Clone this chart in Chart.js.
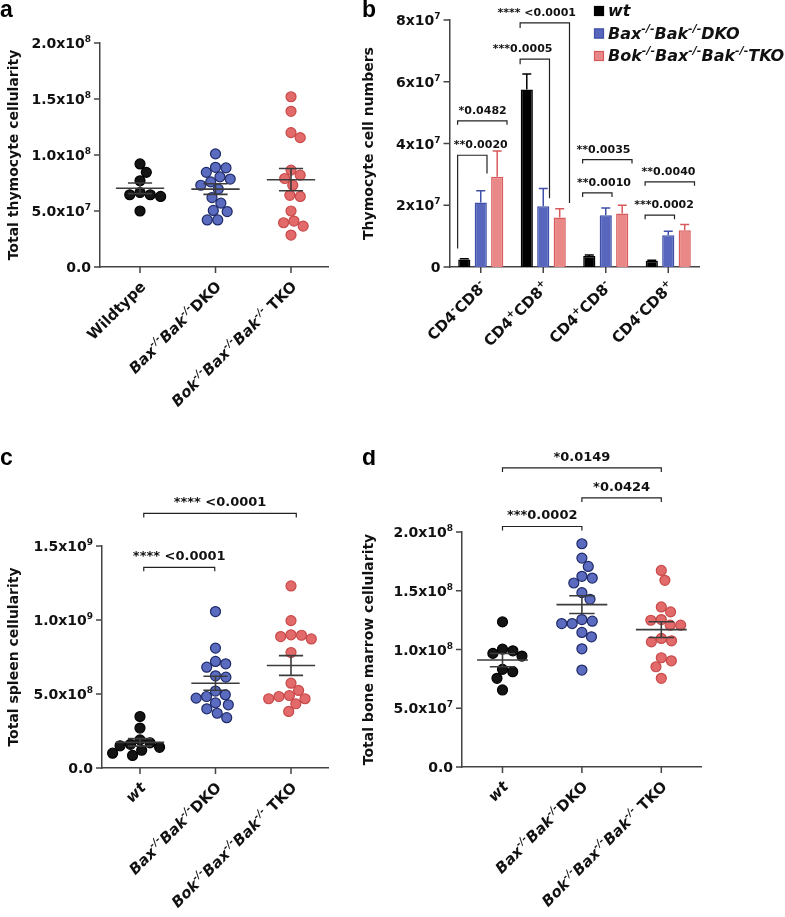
<!DOCTYPE html>
<html>
<head>
<meta charset="utf-8">
<title>Thymocyte, spleen and bone marrow cellularity</title>
<script src="https://cdn.jsdelivr.net/npm/chart.js@4.4.1/dist/chart.umd.min.js"></script>
<style>
  html, body { margin: 0; padding: 0; background: #fff; }
  #page { position: relative; width: 785px; height: 917px; overflow: hidden; }
  #page canvas { position: absolute; }
</style>
</head>
<body>
<div id="page">
  <canvas id="panelA" width="355" height="450" style="left:0;top:0"></canvas>
  <canvas id="panelB" width="430" height="450" style="left:355px;top:0"></canvas>
  <canvas id="panelC" width="355" height="467" style="left:0;top:450px"></canvas>
  <canvas id="panelD" width="430" height="467" style="left:355px;top:450px"></canvas>
</div>
<script>
// ---- data ----
// markup in labels: ~...~ italic, ^{...} superscript

// a: total thymocyte cellularity
const thymusGroups = ['Wildtype', '~Bax^{-/-}Bak^{-/-}~DKO', '~Bok^{-/-}Bax^{-/-}Bak^{-/-}~ TKO'];
const thymusWT = [9.2e7, 8.45e7, 7.7e7, 6.65e7, 6.45e7, 6.3e7, 6.45e7, 5.0e7];
const thymusDKO = [1.01e8, 8.9e7, 8.85e7, 8.45e7, 8.05e7, 7.85e7, 7.6e7, 7.3e7, 6.95e7, 6.2e7, 5.7e7, 4.95e7, 5.05e7, 4.2e7, 4.2e7];
const thymusTKO = [1.52e8, 1.39e8, 1.2e8, 1.155e8, 8.65e7, 8.2e7, 7.9e7, 7.3e7, 6.4e7, 6.3e7, 5.0e7, 3.95e7, 4.1e7, 3.65e7, 2.85e7];
const thymusTicks = [0, 5e7, 1e8, 1.5e8, 2e8];
const thymusTickLabels = ['0.0', '5.0x10^{7}', '1.0x10^{8}', '1.5x10^{8}', '2.0x10^{8}'];

// b: thymocyte subsets (mean + SEM)
const subsets = ['CD4^{-}CD8^{-}', 'CD4^{+}CD8^{+}', 'CD4^{+}CD8^{-}', 'CD4^{-}CD8^{+}'];
const seriesNames = ['~wt~', '~Bax^{-/-}Bak^{-/-}DKO~', '~Bok^{-/-}Bax^{-/-}Bak^{-/-}TKO~'];
const wtCounts = [2.4e6, 5.75e7, 3.6e6, 2.0e6];
const wtSem = [3e5, 5.0e6, 3e5, 2e5];
const dkoCounts = [2.09e7, 1.97e7, 1.68e7, 1.03e7];
const dkoSem = [3.8e6, 5.7e6, 2.3e6, 1.3e6];
const tkoCounts = [2.92e7, 1.6e7, 1.73e7, 1.19e7];
const tkoSem = [8.4e6, 2.9e6, 2.7e6, 1.9e6];
const subsetTicks = [0, 2e7, 4e7, 6e7, 8e7];
const subsetTickLabels = ['0', '2x10^{7}', '4x10^{7}', '6x10^{7}', '8x10^{7}'];
// comparisons: [subset, series] to [subset, series], bracket level, leg ends, label centre (category units)
const subsetStats = [
  { from: [0, 0], to: [0, 1], y: 3.62e7, legs: [6.0e6, 3.03e7], tx: 0.0, text: '**0.0020' },
  { from: [0, 0], to: [0, 2], y: 4.735e7, tx: 0.03, text: '*0.0482' },
  { from: [1, 0], to: [1, 1], y: 6.73e7, legs: [6.57e7, 2.23e7], tx: 0.67, text: '***0.0005' },
  { from: [1, 0], to: [1, 2], y: 7.91e7, legs: [7.74e7, 2.07e7], tx: 0.895, text: '**** <0.0001' },
  { from: [2, 0], to: [2, 1], y: 2.4e7, tx: 1.972, text: '**0.0010' },
  { from: [2, 0], to: [2, 2], y: 3.48e7, tx: 1.964, text: '**0.0035' },
  { from: [3, 0], to: [3, 1], y: 1.68e7, tx: 2.932, text: '***0.0002' },
  { from: [3, 0], to: [3, 2], y: 2.76e7, tx: 3.004, text: '**0.0040' }
];

// c: total spleen cellularity
const mutantGroups = ['~wt~', '~Bax^{-/-}Bak^{-/-}~DKO', '~Bok^{-/-}Bax^{-/-}Bak^{-/-}~ TKO'];
const spleenWT = [3.48e8, 2.7e8, 1.9e8, 1.7e8, 1.6e8, 1.5e8, 1.4e8, 1.2e8, 1.0e8, 8.5e7];
const spleenDKO = [1.057e9, 8.1e8, 7.2e8, 7.04e8, 6.81e8, 6.23e8, 6.14e8, 5.2e8, 4.95e8, 4.83e8, 4.72e8, 4.4e8, 4.27e8, 4.0e8, 3.7e8, 3.4e8];
const spleenTKO = [1.23e9, 9.96e8, 9.0e8, 8.97e8, 8.88e8, 8.72e8, 7.8e8, 5.73e8, 5.24e8, 4.9e8, 4.83e8, 4.68e8, 4.68e8, 4.34e8, 3.82e8];
const spleenTicks = [0, 5e8, 1e9, 1.5e9];
const spleenTickLabels = ['0.0', '5.0x10^{8}', '1.0x10^{9}', '1.5x10^{9}'];
const spleenStats = [
  { from: 0.05, to: 2.07, y: 1.72e9, text: '**** <0.0001' },
  { from: 0.05, to: 0.99, y: 1.356e9, text: '**** <0.0001' }
];

// d: total bone marrow cellularity
const marrowWT = [1.235e8, 1.003e8, 9.89e7, 9.67e7, 9.44e7, 8.31e7, 8.11e7, 7.55e7, 6.56e7];
const marrowDKO = [1.9e8, 1.778e8, 1.707e8, 1.623e8, 1.608e8, 1.566e8, 1.484e8, 1.427e8, 1.255e8, 1.241e8, 1.221e8, 1.221e8, 1.145e8, 1.108e8, 1.006e8, 8.25e7];
const marrowTKO = [1.673e8, 1.589e8, 1.362e8, 1.32e8, 1.255e8, 1.249e8, 1.207e8, 1.207e8, 1.094e8, 1.074e8, 1.065e8, 9.3e7, 9.04e7, 8.53e7, 7.55e7];
const marrowTicks = [0, 5e7, 1e8, 1.5e8, 2e8];
const marrowTickLabels = ['0.0', '5.0x10^{7}', '1.0x10^{8}', '1.5x10^{8}', '2.0x10^{8}'];
const marrowStats = [
  { from: 0, to: 2, y: 2.545e8, text: '*0.0149' },
  { from: 1, to: 2, y: 2.29e8, text: '*0.0424' },
  { from: 0, to: 1, y: 2.047e8, text: '***0.0002' }
];

// ---- styling ----
const FONT = '"DejaVu Sans", sans-serif';
const AXIS = '#444';
const DOTS = [
  { fill: '#141414', edge: '#000000' },
  { fill: '#5b6cc0', edge: '#1f2b68' },
  { fill: '#e26a6a', edge: '#c94a4a' }
];
const BARS = [
  { fill: '#000000', edge: '#000000' },
  { fill: '#5867bd', edge: '#4050a8' },
  { fill: '#ea8787', edge: '#d85a5a' }
];
const BRACKET_X = [-0.37, 0.1, 0.42]; // where a bracket leg sits for each series in panel b

// ---- rich text helpers ----
function parseRich(str) {
  const segs = [];
  let italic = false, buf = '', i = 0;
  const push = (sup) => { if (buf) segs.push({ t: buf, it: italic, sup }); buf = ''; };
  while (i < str.length) {
    const ch = str[i];
    if (ch === '~') { push(false); italic = !italic; i++; }
    else if (ch === '^' && str[i + 1] === '{') {
      push(false);
      const j = str.indexOf('}', i);
      buf = str.slice(i + 2, j);
      push(true);
      i = j + 1;
    } else { buf += ch; i++; }
  }
  push(false);
  return segs;
}

function drawRich(ctx, str, x, y, size, align) {
  const segs = parseRich(str);
  const fontOf = s => `${s.it ? 'italic ' : ''}bold ${s.sup ? Math.round(size * 0.66) : size}px ${FONT}`;
  let w = 0;
  segs.forEach(s => { ctx.font = fontOf(s); s.w = ctx.measureText(s.t).width; w += s.w; });
  let cx = align === 'right' ? x - w : align === 'center' ? x - w / 2 : x;
  ctx.textAlign = 'left';
  ctx.textBaseline = 'alphabetic';
  segs.forEach(s => {
    ctx.font = fontOf(s);
    ctx.fillText(s.t, cx, s.sup ? y - size * 0.42 : y);
    cx += s.w;
  });
}

// ---- axis / annotation drawing ----
function drawYAxis(chart, ticks, labels, title) {
  const { ctx, chartArea, scales: { y } } = chart;
  ctx.save();
  ctx.strokeStyle = AXIS;
  ctx.lineWidth = 1.5;
  ctx.fillStyle = '#111';
  ticks.forEach((t, i) => {
    const py = y.getPixelForValue(t);
    ctx.beginPath();
    ctx.moveTo(chartArea.left - 6, py);
    ctx.lineTo(chartArea.left, py);
    ctx.stroke();
    drawRich(ctx, labels[i], chartArea.left - 9, py + 5, 14, 'right');
  });
  ctx.translate(13, (chartArea.top + chartArea.bottom) / 2);
  ctx.rotate(-Math.PI / 2);
  drawRich(ctx, title, 0, 5, 14, 'center');
  ctx.restore();
}

function drawXAxis(chart, labels) {
  const { ctx, chartArea, scales: { x } } = chart;
  ctx.save();
  ctx.strokeStyle = AXIS;
  ctx.lineWidth = 1.5;
  ctx.fillStyle = '#111';
  labels.forEach((lab, i) => {
    const px = x.getPixelForValue(i);
    ctx.beginPath();
    ctx.moveTo(px, chartArea.bottom);
    ctx.lineTo(px, chartArea.bottom + 6);
    ctx.stroke();
    ctx.save();
    ctx.translate(px + 3, chartArea.bottom + 17);
    ctx.rotate(-Math.PI / 4);
    drawRich(ctx, lab, 0, 5, 15, 'right');
    ctx.restore();
  });
  ctx.restore();
}

function drawBracket(chart, x1, x2, yv, legs, text, size, tx) {
  const { ctx, scales: { x, y } } = chart;
  const px1 = x.getPixelForValue(x1), px2 = x.getPixelForValue(x2);
  const py = y.getPixelForValue(yv);
  const l1 = legs ? y.getPixelForValue(legs[0]) : py + 4;
  const l2 = legs ? y.getPixelForValue(legs[1]) : py + 4;
  ctx.save();
  ctx.strokeStyle = '#222';
  ctx.lineWidth = 1.2;
  ctx.beginPath();
  ctx.moveTo(px1, l1);
  ctx.lineTo(px1, py);
  ctx.lineTo(px2, py);
  ctx.lineTo(px2, l2);
  ctx.stroke();
  ctx.fillStyle = '#111';
  const cx = tx == null ? (px1 + px2) / 2 : x.getPixelForValue(tx);
  drawRich(ctx, text, cx, py - 7, size, 'center');
  ctx.restore();
}

function drawLetter(chart, letter, lx, ly) {
  const ctx = chart.ctx;
  ctx.save();
  ctx.fillStyle = '#000';
  ctx.font = 'bold 23px "Liberation Sans", Arial, sans-serif';
  ctx.textAlign = 'left';
  ctx.textBaseline = 'alphabetic';
  ctx.fillText(letter, lx, ly);
  ctx.restore();
}

function drawMeanSem(chart, series) {
  const { ctx, scales: { x, y } } = chart;
  ctx.save();
  ctx.strokeStyle = '#3c3c3c';
  ctx.lineWidth = 1.6;
  series.forEach((vals, gi) => {
    const n = vals.length;
    const mean = vals.reduce((a, b) => a + b, 0) / n;
    const sd = Math.sqrt(vals.reduce((a, b) => a + (b - mean) * (b - mean), 0) / (n - 1));
    const sem = sd / Math.sqrt(n);
    const cx = x.getPixelForValue(gi);
    const half = x.getPixelForValue(gi + 0.32) - cx;
    const cap = x.getPixelForValue(gi + 0.16) - cx;
    const pm = y.getPixelForValue(mean), ph = y.getPixelForValue(mean + sem), pl = y.getPixelForValue(mean - sem);
    ctx.beginPath();
    ctx.moveTo(cx - half, pm); ctx.lineTo(cx + half, pm);
    ctx.moveTo(cx, ph); ctx.lineTo(cx, pl);
    ctx.moveTo(cx - cap, ph); ctx.lineTo(cx + cap, ph);
    ctx.moveTo(cx - cap, pl); ctx.lineTo(cx + cap, pl);
    ctx.stroke();
  });
  ctx.restore();
}

// spread dots sideways so they do not pile up (beeswarm)
function swarm(vals, gi, xs, ys, minDist) {
  const unit = xs.getPixelForValue(gi + 1) - xs.getPixelForValue(gi);
  const order = vals.map((_, i) => i).sort((a, b) => vals[b] - vals[a]);
  const placed = [];
  const out = [];
  order.forEach(i => {
    const py = ys.getPixelForValue(vals[i]);
    const blocks = [];
    placed.forEach(p => {
      const dy = Math.abs(p.y - py);
      if (dy < minDist) {
        const dx = Math.sqrt(minDist * minDist - dy * dy);
        blocks.push([p.x - dx, p.x + dx]);
      }
    });
    const cands = [0];
    blocks.forEach(b => cands.push(b[0], b[1]));
    cands.sort((a, b) => Math.abs(a) - Math.abs(b) || b - a);
    const free = c => blocks.every(b => c <= b[0] + 1e-6 || c >= b[1] - 1e-6);
    const px = cands.find(free);
    placed.push({ x: px, y: py });
    out[i] = gi + px / unit;
  });
  return out;
}

function plainAxis() {
  return {
    grid: { display: false, drawTicks: false },
    ticks: { display: false },
    border: { display: true, color: AXIS, width: 1.5 }
  };
}

// ---- dot plot panels (a, c, d) ----
function dotPanel(id, cfg) {
  const chart = new Chart(document.getElementById(id), {
    type: 'scatter',
    data: {
      datasets: cfg.series.map((vals, gi) => ({
        data: vals.map(v => ({ x: gi, y: v })),
        pointRadius: 5,
        pointBorderWidth: 1.2,
        pointBackgroundColor: DOTS[gi].fill,
        pointBorderColor: DOTS[gi].edge
      }))
    },
    options: {
      responsive: false,
      animation: false,
      events: [],
      layout: { padding: cfg.padding },
      scales: {
        x: Object.assign({ type: 'linear', min: cfg.xRange[0], max: cfg.xRange[1] }, plainAxis()),
        y: Object.assign({ type: 'linear', min: 0, max: cfg.ticks[cfg.ticks.length - 1] }, plainAxis())
      },
      plugins: { legend: { display: false }, tooltip: { enabled: false } }
    },
    plugins: [{
      id: 'decor',
      afterDatasetsDraw(c) { drawMeanSem(c, cfg.series); },
      afterDraw(c) {
        drawYAxis(c, cfg.ticks, cfg.tickLabels, cfg.title);
        drawXAxis(c, cfg.groups);
        cfg.stats.forEach(s => drawBracket(c, s.from, s.to, s.y, null, s.text, 13));
        drawLetter(c, cfg.letter, cfg.letterPos[0], cfg.letterPos[1]);
      }
    }]
  });
  chart.data.datasets.forEach((ds, gi) => {
    const xs = swarm(cfg.series[gi], gi, chart.scales.x, chart.scales.y, 10.5);
    ds.data = cfg.series[gi].map((v, i) => ({ x: xs[i], y: v }));
  });
  chart.update('none');
  return chart;
}

dotPanel('panelA', {
  series: [thymusWT, thymusDKO, thymusTKO],
  groups: thymusGroups,
  ticks: thymusTicks,
  tickLabels: thymusTickLabels,
  title: 'Total thymocyte cellularity',
  stats: [],
  xRange: [-0.53, 2.49],
  padding: { left: 100, right: 27, top: 43, bottom: 183 },
  letter: 'a', letterPos: [0, 17]
});

dotPanel('panelC', {
  series: [spleenWT, spleenDKO, spleenTKO],
  groups: mutantGroups,
  ticks: spleenTicks,
  tickLabels: spleenTickLabels,
  title: 'Total spleen cellularity',
  stats: spleenStats,
  xRange: [-0.503, 2.49],
  padding: { left: 102, right: 27, top: 96, bottom: 149 },
  letter: 'c', letterPos: [0, 15]
});

dotPanel('panelD', {
  series: [marrowWT, marrowDKO, marrowTKO],
  groups: mutantGroups,
  ticks: marrowTicks,
  tickLabels: marrowTickLabels,
  title: 'Total bone marrow cellularity',
  stats: marrowStats,
  xRange: [-0.51, 2.5],
  padding: { left: 107, right: 84, top: 82, bottom: 150 },
  letter: 'd', letterPos: [7, 15]
});

// ---- bar panel (b) ----
const barSem = [wtSem, dkoSem, tkoSem];
new Chart(document.getElementById('panelB'), {
  type: 'bar',
  data: {
    labels: subsets,
    datasets: [wtCounts, dkoCounts, tkoCounts].map((vals, si) => ({
      label: seriesNames[si],
      data: vals,
      backgroundColor: BARS[si].fill,
      borderColor: BARS[si].edge,
      borderWidth: 1.5,
      categoryPercentage: 0.79,
      barPercentage: 0.74
    }))
  },
  options: {
    responsive: false,
    animation: false,
    events: [],
    layout: { padding: { left: 94.5, right: 85.5, top: 20, bottom: 183 } },
    scales: {
      x: plainAxis(),
      y: Object.assign({ min: 0, max: 8e7 }, plainAxis())
    },
    plugins: { legend: { display: false }, tooltip: { enabled: false } }
  },
  plugins: [{
    id: 'decorBars',
    afterDatasetsDraw(c) {
      const { ctx, scales: { y } } = c;
      ctx.save();
      ctx.lineWidth = 1.5;
      c.data.datasets.forEach((ds, si) => {
        ctx.strokeStyle = BARS[si].edge;
        c.getDatasetMeta(si).data.forEach((bar, i) => {
          const top = y.getPixelForValue(ds.data[i] + barSem[si][i]);
          ctx.beginPath();
          ctx.moveTo(bar.x, bar.y);
          ctx.lineTo(bar.x, top);
          ctx.moveTo(bar.x - 4.5, top);
          ctx.lineTo(bar.x + 4.5, top);
          ctx.stroke();
        });
      });
      ctx.restore();
    },
    afterDraw(c) {
      drawYAxis(c, subsetTicks, subsetTickLabels, 'Thymocyte cell numbers');
      drawXAxis(c, subsets);
      subsetStats.forEach(s => drawBracket(c,
        s.from[0] + BRACKET_X[s.from[1]], s.to[0] + BRACKET_X[s.to[1]], s.y, s.legs, s.text, 11, s.tx));
      // legend
      const ctx = c.ctx;
      ctx.save();
      c.data.datasets.forEach((ds, si) => {
        const top = 6 + si * 22.5;
        ctx.fillStyle = BARS[si].fill;
        ctx.fillRect(239, top, 10, 10);
        ctx.strokeStyle = BARS[si].edge;
        ctx.lineWidth = 1.2;
        ctx.strokeRect(239.5, top + 0.5, 9, 9);
        ctx.fillStyle = '#111';
        drawRich(ctx, ds.label, 253, top + 10, 16, 'left');
      });
      ctx.restore();
      drawLetter(c, 'b', 7, 17);
    }
  }]
});
</script>
</body>
</html>
